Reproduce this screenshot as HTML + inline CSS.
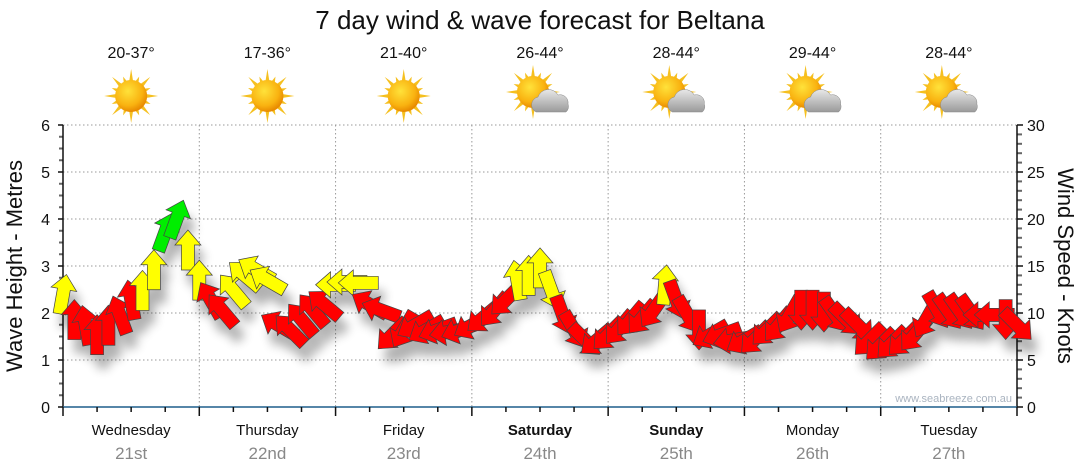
<!DOCTYPE html>
<html><head><meta charset="utf-8">
<style>
body{margin:0;background:#fff;}
svg{display:block;font-family:"Liberation Sans",sans-serif;}
</style></head>
<body>
<svg id="chart" width="1080" height="475" viewBox="0 0 1080 475">
<defs>
<filter id="sh" x="-50%" y="-50%" width="200%" height="200%"><feGaussianBlur stdDeviation="5"/></filter>
<radialGradient id="sun" cx="40%" cy="35%" r="65%"><stop offset="0" stop-color="#ffe23a"/><stop offset="0.7" stop-color="#f9b210"/><stop offset="1" stop-color="#e88a00"/></radialGradient>
<linearGradient id="cloud" x1="0" y1="0" x2="0" y2="1"><stop offset="0" stop-color="#e8e8e8"/><stop offset="1" stop-color="#9a9a9a"/></linearGradient>
</defs>
<text x="540" y="29" text-anchor="middle" font-size="26" fill="#111">7 day wind &amp; wave forecast for Beltana</text>
<g id="grid"></g>
<g id="axes"></g>
<g id="icons"></g>
<g id="shadows" filter="url(#sh)" opacity="0.3"></g>
<g id="arrows"></g>
<text x="1012" y="402" text-anchor="end" font-size="11" fill="#aab4c0">www.seabreeze.com.au</text>
<text transform="translate(22,266) rotate(-90)" text-anchor="middle" font-size="22" fill="#111">Wave Height - Metres</text>
<text transform="translate(1058,266) rotate(90)" text-anchor="middle" font-size="22" fill="#111">Wind Speed - Knots</text>
</svg>
<script>
const days = ["Wednesday","Thursday","Friday","Saturday","Sunday","Monday","Tuesday"];
const dates = ["21st","22nd","23rd","24th","25th","26th","27th"];
const weekend = [false,false,false,true,true,false,false];
const temps = ["20-37°","17-36°","21-40°","26-44°","28-44°","29-44°","28-44°"];
const cloudy = [false,false,false,true,true,true,true];
const waveTicks = [0,1,2,3,4,5,6];
const windTicks = [0,5,10,15,20,25,30];
const hours = [0,2,4,6,8,10,12,14,16,18,20,22,24,26,28,30,32,34,36,38,40,42,44,46,48,50,52,54,56,58,60,62,64,66,68,70,72,74,76,78,80,82,84,86,88,90,92,94,96,98,100,102,104,106,108,110,112,114,116,118,120,122,124,126,128,130,132,134,136,138,140,142,144,146,148,150,152,154,156,158,160,162,164,166,168];
const speeds = [12,9.3,8.7,7.7,8.7,9.8,11.4,12.4,14.6,18.6,20,16.7,13.5,11.4,10.3,12.4,14,14.6,13.5,8.7,8.2,9.3,10.3,10.9,13,13.3,13.2,10.9,10.3,7.7,8.2,8.7,8.2,8.2,8,8.2,8.7,9.5,10.3,11.4,13.5,14,14.8,12.4,9.8,8.2,7.1,7.1,7.7,8.4,9.3,9.5,10.3,13,11.4,9.8,8.2,7.7,7.7,7.1,7.1,7.3,8.2,8.7,9.8,10.3,10.3,10.1,9.8,9.3,8.7,7.1,6.6,6.8,7.1,7.7,9.3,10.3,10.1,10.1,10,9.8,9.8,9.3,8.7];
const dirs = [10,0,-10,0,0,-20,-10,0,0,20,20,0,0,-30,-40,-40,-50,-60,-60,-60,-45,-40,-40,-50,-90,-90,-90,-60,-70,-135,-150,-120,-120,-110,-100,-110,-120,-130,-140,-135,-10,0,0,160,160,150,135,-130,-135,-140,-140,-140,-145,5,160,150,180,-120,-110,-100,-120,-135,-135,-140,-150,180,180,180,145,135,135,-135,-135,-135,-135,-140,-150,150,145,145,145,-90,-90,180,135];

const NS="http://www.w3.org/2000/svg";
const X0=63, X1=1017, YB=407, YT=125;
const xT = h => X0 + (X1-X0)*h/168;
const yM = m => YB - (YB-YT)*m/6;
const yK = k => YB - (YB-YT)*k/30;
function mk(tag, attrs, parent, txt){const e=document.createElementNS(NS,tag);for(const k in attrs)e.setAttribute(k,attrs[k]);if(txt!==undefined)e.textContent=txt;parent.appendChild(e);return e;}
const grid=document.getElementById('grid'), axes=document.getElementById('axes'), icons=document.getElementById('icons');
waveTicks.forEach(m=>{
  if(m>0){const l=mk('line',{x1:X0,x2:X1,y1:yM(m),y2:yM(m),stroke:'#999','stroke-dasharray':'1.5,2.5'},grid);
  
  }
  const t=mk('text',{x:50,y:yM(m)+6,'text-anchor':'end','font-size':16,fill:'#111'},axes,String(m));
  
  
});
for(let i=0;i<=24;i++){const y=yM(i*0.25);mk('line',{x1:X0-(i%4==0?5:4),x2:X0,y1:y,y2:y,stroke:i%4==0?'#111':'#666','stroke-width':i%4==0?1.5:2},axes);}
windTicks.forEach(k=>{
  const t=mk('text',{x:1027,y:yK(k)+6,'font-size':16,fill:'#111'},axes,String(k));
  
  
});
for(let i=0;i<=30;i++){const y=yK(i);mk('line',{x1:X1,x2:X1+(i%5==0?6:5),y1:y,y2:y,stroke:i%5==0?'#111':'#666','stroke-width':i%5==0?1.5:2},axes);}
mk('line',{x1:X0,x2:X0,y1:YT,y2:YB,stroke:'#111','stroke-width':1.5},axes);
mk('line',{x1:X1,x2:X1,y1:YT,y2:YB,stroke:'#111','stroke-width':1.5},axes);
days.forEach((d,i)=>{
  const xb=xT(24*(i+1)), xc=xT(24*i+12);
  if(i<6){const l=mk('line',{x1:xb,x2:xb,y1:YT,y2:YB,stroke:'#999','stroke-dasharray':'1.5,2.5'},grid);
  
  }
  const t=mk('text',{x:xc,y:435,'text-anchor':'middle','font-size':15,fill:'#111','font-weight':weekend[i]?'bold':'normal'},axes,d);
  
  
  const t2=mk('text',{x:xc,y:459,'text-anchor':'middle','font-size':17,fill:'#888'},axes,dates[i]);
  
  
  const t3=mk('text',{x:xc,y:58,'text-anchor':'middle','font-size':16,fill:'#111'},icons,temps[i]);
  
  
  const g=mk('g',{transform:`translate(${xc},96)`},icons);
  
  
  const sx=cloudy[i]?-7:0, sy=cloudy[i]?-4:0;
  for(let r=0;r<16;r++){const a=r*Math.PI/8, L=r%2?21:27;
    mk('polygon',{points:`${sx+Math.cos(a-0.15)*14},${sy+Math.sin(a-0.15)*14} ${sx+Math.cos(a)*L},${sy+Math.sin(a)*L} ${sx+Math.cos(a+0.15)*14},${sy+Math.sin(a+0.15)*14}`,fill:'#f5c020'},g);}
  mk('circle',{cx:sx,cy:sy,r:16,fill:'url(#sun)'},g);
  if(cloudy[i]){
    mk('path',{d:'M-4,16 a8,8 0 0 1 2,-15 a11,11 0 0 1 20,-2 a8,8 0 0 1 10,9 a7,7 0 0 1 -2,8 z',fill:'url(#cloud)',stroke:'#888','stroke-width':0.5},g);
  }
});
mk('line',{x1:X0,x2:X1,y1:YB,y2:YB,stroke:'#1f5f8b','stroke-width':1.5},axes);
for(let h=0;h<=168;h+=6){const x=xT(h);mk('line',{x1:x,x2:x,y1:YB,y2:YB+(h%24==0?9:5),stroke:'#111','stroke-width':1.5},axes);}
const shadows=document.getElementById('shadows'), arrows=document.getElementById('arrows');
const shape="0,-20 13,-5 6.5,-5 6.5,20 -6.5,20 -6.5,-5 -13,-5";
hours.forEach((h,i)=>{
  const x=xT(h), y=yK(speeds[i]);
  const s=speeds[i], col=s>=17?'#00ee00':(s>=11.8?'#ffff00':'#ff0000');
  mk('polygon',{points:shape,transform:`translate(${x+6},${y+14}) rotate(${dirs[i]})`,fill:'#000'},shadows);
  const p=mk('polygon',{points:shape,transform:`translate(${x},${y}) rotate(${dirs[i]})`,fill:col,stroke:'#444','stroke-width':0.7},arrows);
  
  
});
</script>
</body></html>
